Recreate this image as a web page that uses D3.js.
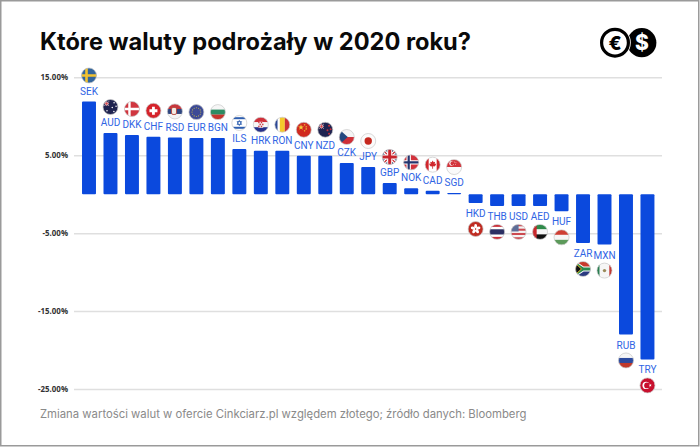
<!DOCTYPE html>
<html>
<head>
<meta charset="utf-8">
<script src="https://cdn.jsdelivr.net/npm/d3@7"></script>
<style>
  html, body { margin: 0; padding: 0; background: #fff; }
  svg { display: block; }
  .title { font-family: "Inter", sans-serif; font-weight: 700; font-size: 23.6px; fill: #0a0a0a; }
  .note { font-family: "Inter", sans-serif; font-size: 11.32px; fill: #8a8a8a; }
  .tick text { font-family: "Open Sans", sans-serif; font-weight: 700; font-size: 7.9px; fill: #333; }
  .tick line { stroke: #dfdfdf; stroke-width: 1.5; }
  .code { font-family: Roboto, sans-serif; font-size: 10px; fill: #2f64e4; text-anchor: middle; }
</style>
</head>
<body>
<script>
var codes = ["SEK","AUD","DKK","CHF","RSD","EUR","BGN","ILS","HRK","RON","CNY","NZD","CZK","JPY",
             "GBP","NOK","CAD","SGD","HKD","THB","USD","AED","HUF","ZAR","MXN","RUB","TRY"];
var changes = [11.9,7.85,7.6,7.37,7.28,7.2,7.2,5.8,5.58,5.58,4.93,4.93,4.0,3.49,
               1.44,0.75,0.45,0.15,-1.13,-1.5,-1.5,-1.5,-2.2,-6.26,-6.47,-18.0,-21.2];
var tickValues = [15,5,-5,-15,-25];
var titleText = "Które waluty podrożały w 2020 roku?";
var noteText = "Zmiana wartości walut w ofercie Cinkciarz.pl względem złotego; źródło danych: Bloomberg";

var width = 700, height = 447;
var flagR = 7.5, labelGap = 10.5, flagGap = 26;

var svg = d3.select("body").append("svg").attr("width", width).attr("height", height);

svg.append("rect").attr("x", 0.75).attr("y", 0.75).attr("width", width - 2).attr("height", height - 2)
  .attr("fill", "#fff").attr("stroke", "#9a9a9a").attr("stroke-width", 1.5);

svg.append("text").attr("class", "title").attr("x", 40).attr("y", 50).text(titleText);
svg.append("text").attr("class", "note").attr("x", 40).attr("y", 418).text(noteText);

// scales
var x = d3.scaleBand().domain(codes).range([78.26, 658.2]).paddingInner(0.35).paddingOuter(0.175);
var y = d3.scaleLinear().domain([15, -25]).range([77.3, 389]);

var yAxis = d3.axisLeft(y).tickValues(tickValues).tickSize(-588).tickPadding(6)
  .tickFormat(function (d) { return d.toFixed(2) + "%"; });

svg.append("g").attr("transform", "translate(74,0)").call(yAxis)
  .call(function (g) { g.select(".domain").remove(); });

// bars
svg.append("g").selectAll("rect").data(codes).enter().append("rect")
  .attr("x", function (d) { return x(d); })
  .attr("y", function (d, i) { return Math.min(y(0), y(changes[i])); })
  .attr("width", x.bandwidth())
  .attr("height", function (d, i) { return Math.abs(y(changes[i]) - y(0)); })
  .attr("rx", 1)
  .attr("fill", "#0b49dd");

// labels
svg.append("g").selectAll("text").data(codes).enter().append("text")
  .attr("class", "code")
  .attr("x", function (d) { return x(d) + x.bandwidth() / 2; })
  .attr("y", function (d, i) { return y(changes[i]) + (changes[i] >= 0 ? -labelGap : labelGap) + 3.6; })
  .text(function (d) { return d; });

// flag helpers, drawn in a box centred on 0,0
function band(g, yy, h, c) { g.append("rect").attr("x", -9).attr("y", yy).attr("width", 18).attr("height", h).attr("fill", c); }
function vert(g, xx, w, c) { g.append("rect").attr("x", xx).attr("y", -9).attr("width", w).attr("height", 18).attr("fill", c); }
function disc(g, cx, cy, r, c) { g.append("circle").attr("cx", cx).attr("cy", cy).attr("r", r).attr("fill", c); }
function hstripes(g, cols) {
  var h = 15 / cols.length;
  cols.forEach(function (c, i) { band(g, -7.5 + i * h, h + 0.1, c); });
}
function star(g, cx, cy, r, c) {
  var s = d3.symbol().type(d3.symbolStar).size(r * r * 2.2)();
  g.append("path").attr("d", s).attr("transform", "translate(" + cx + "," + cy + ")").attr("fill", c);
}
function unionJack(g, cx, cy, s) {
  var u = g.append("g").attr("transform", "translate(" + cx + "," + cy + ") scale(" + s + ")");
  u.append("rect").attr("x", -9).attr("y", -9).attr("width", 18).attr("height", 18).attr("fill", "#1f2a5a");
  u.append("path").attr("d", "M-9,-9L9,9M9,-9L-9,9").attr("stroke", "#fff").attr("stroke-width", 3.4);
  u.append("path").attr("d", "M-9,-9L9,9M9,-9L-9,9").attr("stroke", "#c8242c").attr("stroke-width", 1.2);
  u.append("path").attr("d", "M0,-9V9M-9,0H9").attr("stroke", "#fff").attr("stroke-width", 5);
  u.append("path").attr("d", "M0,-9V9M-9,0H9").attr("stroke", "#c8242c").attr("stroke-width", 3);
}
function nordic(g, bg, outer, inner) {
  band(g, -9, 18, bg);
  g.append("path").attr("d", "M-2.5,-9V9M-9,0H9").attr("stroke", outer).attr("stroke-width", outer === inner ? 2.4 : 4.4);
  if (outer !== inner) g.append("path").attr("d", "M-2.5,-9V9M-9,0H9").attr("stroke", inner).attr("stroke-width", 2.2);
}

var flags = {
  SEK: function (g) { band(g, -9, 18, "#33659c"); g.append("path").attr("d", "M-2.5,-9V9M-9,0H9").attr("stroke", "#f2c230").attr("stroke-width", 2.6); },
  AUD: function (g) {
    band(g, -9, 18, "#1f2350");
    unionJack(g, -3.8, -3.4, 0.24);
    [[3.6, -4.2], [5.6, -0.8], [1.8, 0.6], [3.4, 4.6], [-3.5, 3.8]].forEach(function (p) { disc(g, p[0], p[1], 0.75, "#fff"); });
  },
  DKK: function (g) { nordic(g, "#d0363f", "#fff", "#fff"); },
  CHF: function (g) { band(g, -9, 18, "#d5232b"); g.append("path").attr("d", "M0,-4V4M-4,0H4").attr("stroke", "#fff").attr("stroke-width", 2.8); },
  RSD: function (g) { hstripes(g, ["#c8363c", "#2f4680", "#f4f4f4"]); g.append("rect").attr("x", -3.4).attr("y", -4).attr("width", 5).attr("height", 7).attr("rx", 1.5).attr("fill", "#f3ece4").attr("stroke", "#b5473e").attr("stroke-width", 0.9); },
  EUR: function (g) {
    band(g, -9, 18, "#3c4a96");
    d3.range(12).forEach(function (i) { var a = i * Math.PI / 6; disc(g, 4.4 * Math.cos(a), 4.4 * Math.sin(a), 0.55, "#c9b94a"); });
  },
  BGN: function (g) { hstripes(g, ["#f6f6f6", "#2e8c63", "#c8342c"]); },
  ILS: function (g) {
    band(g, -9, 18, "#fff"); band(g, -5.8, 2, "#2f5fb0"); band(g, 3.8, 2, "#2f5fb0");
    g.append("path").attr("d", "M0,-2.6L2.3,1.4H-2.3ZM0,2.6L2.3,-1.4H-2.3Z").attr("fill", "none").attr("stroke", "#2f5fb0").attr("stroke-width", 0.8);
  },
  HRK: function (g) {
    hstripes(g, ["#d0303a", "#f6f6f6", "#26308a"]);
    g.append("rect").attr("x", -2.6).attr("y", -3).attr("width", 5.2).attr("height", 6).attr("rx", 1).attr("fill", "#f2f2f2");
    [[-2.6, -3], [0, -3], [-1.3, -1], [1.3, -1], [-2.6, 1], [0, 1]].forEach(function (p) {
      g.append("rect").attr("x", p[0]).attr("y", p[1]).attr("width", 1.3).attr("height", 1.5).attr("fill", "#d0303a");
    });
  },
  RON: function (g) { vert(g, -9, 4.1 + 0.1, "#2b4795"); vert(g, -2.5, 5, "#f4c92c"); vert(g, 2.5, 6.5, "#cc2f36"); },
  CNY: function (g) {
    band(g, -9, 18, "#d02a1f");
    star(g, -2.8, -2.4, 2.2, "#f4d23c");
    [[0.8, -5], [2.4, -3], [2.4, -0.8], [0.8, 1]].forEach(function (p) { star(g, p[0], p[1], 0.8, "#f4d23c"); });
  },
  NZD: function (g) {
    band(g, -9, 18, "#1f2350");
    unionJack(g, -3.8, -3.4, 0.24);
    [[3.8, -4], [5.4, -0.6], [2.2, 0.4], [3.8, 4]].forEach(function (p) { disc(g, p[0], p[1], 1, "#c8303a"); });
  },
  CZK: function (g) {
    hstripes(g, ["#f4f4f4", "#cf2f38"]);
    g.append("path").attr("d", "M-8,-8L1,0L-8,8Z").attr("fill", "#23477f");
  },
  JPY: function (g) { band(g, -9, 18, "#fbfbfb"); disc(g, 0, 0, 3.7, "#c5281f"); },
  GBP: function (g) { unionJack(g, 0, 0, 1); },
  NOK: function (g) { nordic(g, "#d2323c", "#fff", "#24346e"); },
  CAD: function (g) {
    band(g, -9, 18, "#fff"); vert(g, -9, 5, "#d0262c"); vert(g, 4, 5, "#d0262c");
    g.append("path").attr("d", "M0,-4.2L1,-2.4L2.4,-3L2,-0.6L3.6,-1.2L3,0.6L1.8,1.8L0.4,1.6V4H-0.4V1.6L-1.8,1.8L-3,0.6L-3.6,-1.2L-2,-0.6L-2.4,-3L-1,-2.4Z").attr("fill", "#d0262c");
  },
  SGD: function (g) {
    hstripes(g, ["#d3333b", "#fafafa"]);
    disc(g, -2.6, -3.6, 2.3, "#fff"); disc(g, -1.6, -3.6, 2.1, "#d3333b");
    [[0.2, -5], [1.8, -4.2], [1.2, -2.6], [-0.6, -2.6]].forEach(function (p) { disc(g, p[0], p[1], 0.45, "#fff"); });
  },
  HKD: function (g) {
    band(g, -9, 18, "#bf2c22");
    d3.range(5).forEach(function (i) {
      g.append("ellipse").attr("cx", 0).attr("cy", -2.6).attr("rx", 1.5).attr("ry", 2.4)
        .attr("transform", "rotate(" + (i * 72) + ")").attr("fill", "#fff");
    });
    disc(g, 0, 0, 0.7, "#bf2c22");
  },
  THB: function (g) { band(g, -7.5, 15, "#fff"); band(g, -7.5, 2.5, "#c9303a"); band(g, -2.6, 5.2, "#2b2f63"); band(g, 5, 2.5, "#c9303a"); },
  USD: function (g) {
    hstripes(g, ["#cc4a50", "#f4f4f4", "#cc4a50", "#f4f4f4", "#cc4a50", "#f4f4f4", "#cc4a50"]);
    g.append("rect").attr("x", -9).attr("y", -9).attr("width", 9).attr("height", 8.6).attr("fill", "#5e6e98");
  },
  AED: function (g) { hstripes(g, ["#2f8a4a", "#f6f6f6", "#111"]); vert(g, -9, 5.6, "#c8282c"); },
  HUF: function (g) { hstripes(g, ["#cf3f34", "#f6f6f6", "#5c9a5a"]); },
  ZAR: function (g) {
    hstripes(g, ["#c83a2c", "#2a3a80"]);
    g.append("path").attr("d", "M-9,-6L0,0H9M-9,6L0,0").attr("fill", "none").attr("stroke", "#fff").attr("stroke-width", 5);
    g.append("path").attr("d", "M-9,-6L0,0H9M-9,6L0,0").attr("fill", "none").attr("stroke", "#2a8a4e").attr("stroke-width", 3);
    g.append("path").attr("d", "M-8,-6L-1.5,0L-8,6Z").attr("fill", "#111").attr("stroke", "#e8b82c").attr("stroke-width", 1);
  },
  MXN: function (g) { vert(g, -9, 4.2, "#2a7d50"); vert(g, -4.8, 9.6, "#f6f6f6"); vert(g, 4.8, 4.2, "#c23a35"); disc(g, 0, 0, 1.7, "#9a8a5a"); },
  RUB: function (g) { hstripes(g, ["#f6f6f6", "#2c4a9e", "#c0392b"]); },
  TRY: function (g) {
    band(g, -9, 18, "#c8102e");
    disc(g, -1.4, 0, 3.6, "#fff"); disc(g, -0.4, 0, 2.9, "#c8102e");
    star(g, 2.8, 0, 1.2, "#fff");
  }
};

// flags
var defs = svg.append("defs");
defs.append("clipPath").attr("id", "flagClip").append("circle").attr("r", flagR);

var flag = svg.append("g").selectAll("g").data(codes).enter().append("g")
  .attr("transform", function (d, i) {
    var cy = y(changes[i]) + (changes[i] >= 0 ? -flagGap : flagGap);
    return "translate(" + (x(d) + x.bandwidth() / 2) + "," + cy + ")";
  });

flag.each(function (d) {
  var inner = d3.select(this).append("g").attr("clip-path", "url(#flagClip)");
  flags[d](inner);
  d3.select(this).append("circle").attr("r", flagR).attr("fill", "none").attr("stroke", "#c9c9c9").attr("stroke-width", 0.7);
});

// logo
var logo = svg.append("g");
logo.append("circle").attr("cx", 641.8).attr("cy", 42.7).attr("r", 14.6).attr("fill", "#000");
logo.append("circle").attr("cx", 615).attr("cy", 42.7).attr("r", 15.8).attr("fill", "#fff");
logo.append("circle").attr("cx", 615).attr("cy", 42.7).attr("r", 13.4).attr("fill", "#fff").attr("stroke", "#000").attr("stroke-width", 3.2);
logo.append("text").attr("x", 615).attr("y", 49.6).attr("text-anchor", "middle")
  .attr("font-family", "Inter, sans-serif").attr("font-weight", 800).attr("font-size", 19).attr("fill", "#000").text("€");
logo.append("text").attr("x", 642).attr("y", 50.2).attr("text-anchor", "middle")
  .attr("font-family", "Inter, sans-serif").attr("font-weight", 800).attr("font-size", 21).attr("fill", "#fff").text("$");
</script>
</body>
</html>
